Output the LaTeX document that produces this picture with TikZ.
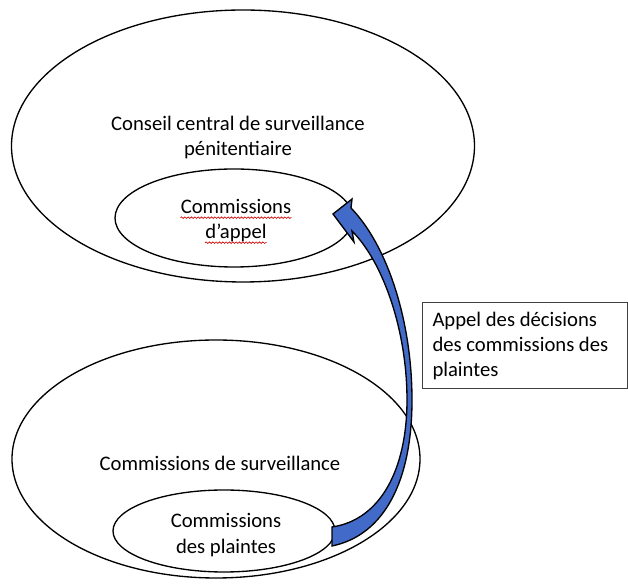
\documentclass[tikz,border=0pt]{standalone}
\usepackage{fontspec}
\setmainfont{Carlito}
\usepackage{tikz}
\usetikzlibrary{shapes.geometric}
\usetikzlibrary{decorations.pathmorphing}
\definecolor{appelblue}{RGB}{66,106,200}

\begin{document}
\begin{tikzpicture}[x=0.6pt,y=-0.6pt,
	oval/.style={draw,ellipse,line width=0.8pt,inner sep=0pt},
	lbl/.style={font=\fontsize{12.4}{15}\selectfont,inner sep=0pt,anchor=base},
	spell/.style={red!80!black,line width=0.4pt,decorate,decoration={snake,amplitude=0.45pt,segment length=2pt}}]
	\useasboundingbox (0,0) rectangle (628,584);
	\node[oval,minimum width=277.8pt,minimum height=163.2pt] (conseil) at (243,146) {};
	\node[oval,minimum width=142.8pt,minimum height=58.8pt] (appel) at (234,218) {};
	\node[oval,minimum width=244.8pt,minimum height=142.8pt] (surv) at (216,459) {};
	\node[oval,minimum width=133.2pt,minimum height=49.2pt] (plaintes) at (224,531) {};
	\node[lbl] (conseilA) at (238,131) {Conseil central de surveillance};
	\node[lbl] (conseilB) at (238,156) {pénitentiaire};
	\node[lbl] (appelA) at (236,214) {Commissions};
	\node[lbl] (appelB) at (236,239) {d’appel};
	\node[lbl] (survA) at (220,471) {Commissions de surveillance};
	\node[lbl] (plaintesA) at (226,528) {Commissions};
	\node[lbl] (plaintesB) at (226,554) {des plaintes};
	\draw[spell] ([yshift=-2.2pt]appelA.base west) -- ([yshift=-2.2pt]appelA.base east);
	\draw[spell] ([yshift=-2.2pt]appelB.base west) -- ([yshift=-2.2pt]appelB.base east);
	\filldraw[fill=appelblue,line width=0.8pt,line join=miter] (332,546) .. controls (385,535) and (412,480) .. (412,400) .. controls (412,320) and (387,245) .. (351,208) -- (352,199) -- (333,214) -- (354,242) -- (352,231) .. controls (383,262) and (407,330) .. (407,400) .. controls (407,470) and (380,520) .. (332,527) -- cycle;
	\node[draw=black!75,line width=0.6pt,anchor=north west,align=flush left,text width=111pt,minimum height=51pt,inner xsep=6pt,inner ysep=5.5pt,font=\fontsize{12.4}{15}\selectfont] (decision) at (422,302) {Appel des décisions\\des commissions des\\plaintes};
\end{tikzpicture}
\end{document}
